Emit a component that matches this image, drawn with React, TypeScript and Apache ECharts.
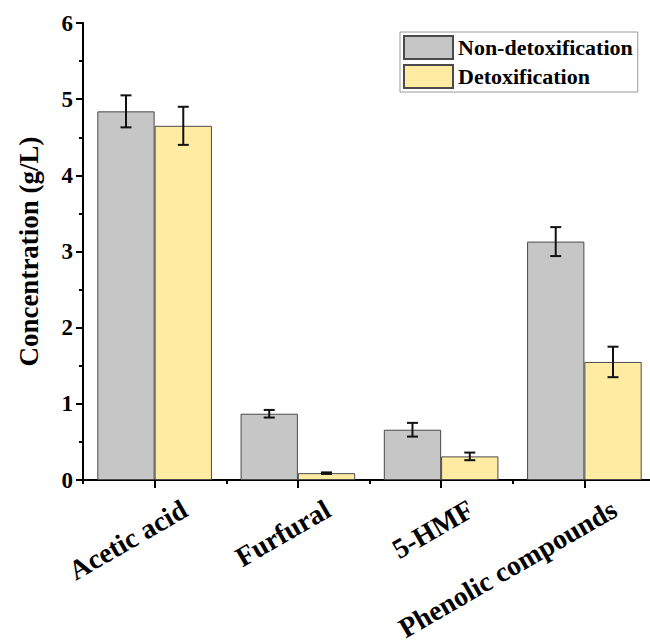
import React, { useEffect, useRef } from "react";
import * as echarts from "echarts";

const categories = ["Acetic acid", "Furfural", "5-HMF", "Phenolic compounds"];
const seriesNames = ["Non-detoxification", "Detoxification"];
const nonDetox = [4.84, 0.87, 0.66, 3.13];
const nonDetoxErr = [0.21, 0.05, 0.09, 0.19];
const detox = [4.65, 0.09, 0.31, 1.55];
const detoxErr = [0.25, 0.01, 0.05, 0.2];
const yTicks = [0, 1, 2, 3, 4, 5, 6];

const FONT = "'Liberation Serif', 'Times New Roman', serif";
const GRAY = "#c6c6c6";
const YELLOW = "#ffeca2";
const EDGE = "#4a4a4a";

// the plot runs a little past the right edge of the visible frame
const VIEW_W = 650;
const VIEW_H = 644;
const CHART_W = 700;

// error bar drawn at the centre of the left (-1) or right (+1) bar of a category
const makeErrorRender = (shift: number) => (_params: any, api: any) => {
  const cat = api.value(0);
  const lo = api.value(1);
  const hi = api.value(2);
  const band = api.size([1, 0])[0];
  const x = api.coord([cat, 0])[0] + shift * band * 0.2;
  const yLo = api.coord([cat, lo])[1];
  const yHi = api.coord([cat, hi])[1];
  const cap = 5.5;
  const style = { stroke: "#111", lineWidth: 2 };
  return {
    type: "group",
    children: [
      { type: "line", shape: { x1: x, y1: yHi, x2: x, y2: yLo }, style },
      { type: "line", shape: { x1: x - cap, y1: yHi, x2: x + cap, y2: yHi }, style },
      { type: "line", shape: { x1: x - cap, y1: yLo, x2: x + cap, y2: yLo }, style },
    ],
  };
};

const errData = (vals: number[], errs: number[]) =>
  vals.map((v, i) => [i, v - errs[i], v + errs[i]]);

export default function App() {
  const ref = useRef<HTMLDivElement>(null);

  useEffect(() => {
    if (!ref.current) return;
    const chart = echarts.init(ref.current, null, { renderer: "svg" });
    const yMin = yTicks[0];
    const yMax = yTicks[yTicks.length - 1];

    chart.setOption({
      animation: false,
      backgroundColor: "#ffffff",
      textStyle: { fontFamily: FONT },
      grid: [
        { left: 83, right: CHART_W - 656, top: 23, bottom: 164 },
        // shifted grid that only carries the slanted category labels
        { left: 113, right: CHART_W - 686, top: 23, bottom: 164 },
      ],
      legend: {
        data: seriesNames,
        orient: "vertical",
        left: 400,
        top: 32,
        padding: [3, 5, 3, 3],
        itemGap: 4,
        itemWidth: 49,
        itemHeight: 23,
        borderColor: "#9a9a9a",
        borderWidth: 1,
        icon: "rect",
        textStyle: { fontFamily: FONT, fontWeight: "bold", fontSize: 22, color: "#000" },
      },
      xAxis: [
        {
          type: "category",
          data: categories,
          gridIndex: 0,
          position: "bottom",
          axisLine: { lineStyle: { color: "#000", width: 2 } },
          axisTick: { show: true, alignWithLabel: true, length: 8, lineStyle: { color: "#000", width: 2 } },
          axisLabel: { show: false },
          splitLine: { show: false },
        },
        {
          type: "category",
          data: categories,
          gridIndex: 0,
          position: "bottom",
          axisLine: { show: false },
          axisTick: { show: true, alignWithLabel: false, length: 4, lineStyle: { color: "#000", width: 2 } },
          axisLabel: { show: false },
          splitLine: { show: false },
        },
        {
          type: "category",
          data: categories,
          gridIndex: 1,
          position: "bottom",
          axisLine: { show: false },
          axisTick: { show: false },
          axisLabel: {
            rotate: 30,
            margin: 40,
            interval: 0,
            fontFamily: FONT,
            fontWeight: "bold",
            fontSize: 28,
            color: "#000",
          },
          splitLine: { show: false },
        },
      ],
      yAxis: [
        {
          type: "value",
          gridIndex: 0,
          min: yMin,
          max: yMax,
          interval: 1,
          name: "Concentration (g/L)",
          nameLocation: "middle",
          nameGap: 41,
          nameTextStyle: { fontFamily: FONT, fontWeight: "bold", fontSize: 27, color: "#000" },
          axisLine: { show: true, lineStyle: { color: "#000", width: 2 } },
          axisTick: { show: true, length: 7, lineStyle: { color: "#000", width: 2 } },
          minorTick: { show: true, splitNumber: 2, length: 4, lineStyle: { color: "#000", width: 2 } },
          axisLabel: { margin: 10, fontFamily: FONT, fontWeight: "bold", fontSize: 23, color: "#000" },
          splitLine: { show: false },
        },
        {
          type: "value",
          gridIndex: 1,
          min: yMin,
          max: yMax,
          show: false,
        },
      ],
      series: [
        {
          name: seriesNames[0],
          type: "bar",
          xAxisIndex: 0,
          yAxisIndex: 0,
          data: nonDetox,
          barGap: "0%",
          barCategoryGap: "20%",
          itemStyle: { color: GRAY, borderColor: EDGE, borderWidth: 1 },
        },
        {
          name: seriesNames[1],
          type: "bar",
          xAxisIndex: 0,
          yAxisIndex: 0,
          data: detox,
          barGap: "0%",
          barCategoryGap: "20%",
          itemStyle: { color: YELLOW, borderColor: EDGE, borderWidth: 1 },
        },
        {
          type: "custom",
          name: "err-non",
          xAxisIndex: 0,
          yAxisIndex: 0,
          z: 5,
          encode: { x: 0, y: [1, 2] },
          data: errData(nonDetox, nonDetoxErr),
          renderItem: makeErrorRender(-1),
        },
        {
          type: "custom",
          name: "err-detox",
          xAxisIndex: 0,
          yAxisIndex: 0,
          z: 5,
          encode: { x: 0, y: [1, 2] },
          data: errData(detox, detoxErr),
          renderItem: makeErrorRender(1),
        },
      ],
    });

    return () => chart.dispose();
  }, []);

  return (
    <div
      style={{
        position: "absolute",
        left: 0,
        top: 0,
        width: VIEW_W,
        height: VIEW_H,
        overflow: "hidden",
        background: "#fff",
      }}
    >
      <div ref={ref} style={{ width: CHART_W, height: VIEW_H }} />
    </div>
  );
}
